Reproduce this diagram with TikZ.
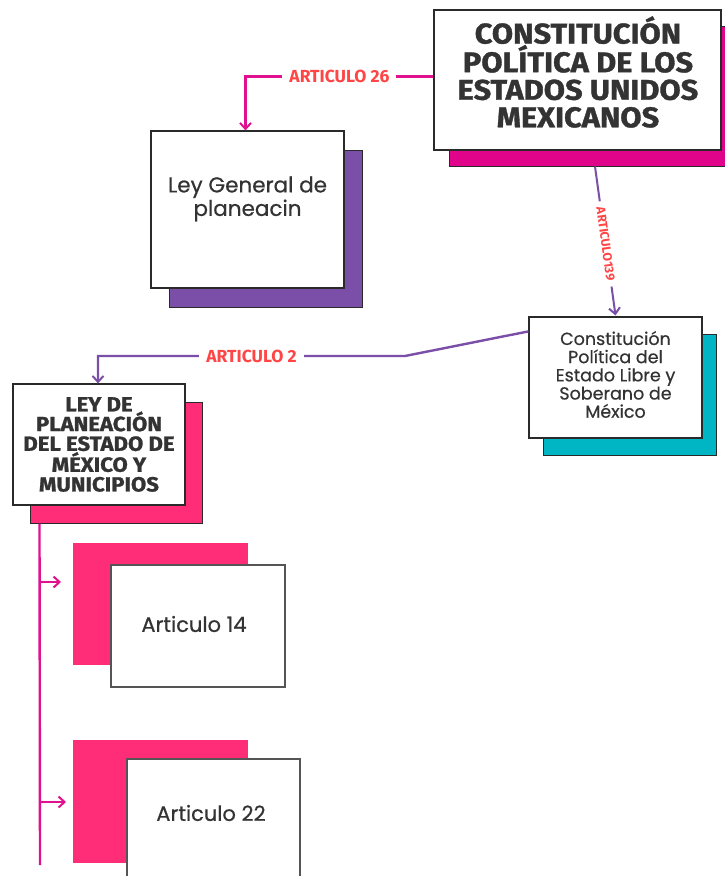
\documentclass[tikz,border=0pt]{standalone}
\usepackage{fontspec}
\setmainfont{Poppins}[FakeBold=0.5]
\newfontfamily\condbold{Fira Sans}[FakeStretch=1.08,FakeBold=1.2]
\newfontfamily\labfont{Fira Sans}
\usetikzlibrary{arrows.meta,calc,positioning}
\definecolor{magline}{HTML}{E0108F}
\definecolor{magbox}{HTML}{E0048B}
\definecolor{purp}{HTML}{7B4FA8}
\definecolor{pinkbox}{HTML}{FF2D78}
\definecolor{tealbox}{HTML}{00B5C4}
\definecolor{labred}{HTML}{FF4545}
\definecolor{txt}{HTML}{333333}
\definecolor{edge}{HTML}{2A2A2A}
\begin{document}
\begin{tikzpicture}[x=1pt,y=-1pt,
  whitebox/.style={draw=edge,line width=1.2pt,fill=white,inner sep=0pt},
  shadowbox/.style={draw=edge,line width=1pt,inner sep=0pt},
  flatbox/.style={draw=none,inner sep=0pt},
  boxtext/.style={text=txt,align=center,inner sep=0pt},
  arttext/.style={font=\labfont\bfseries\fontsize{17.5}{19}\selectfont,text=labred,fill=white,inner xsep=7pt,inner ysep=1pt},
  conn/.style={line width=2.4pt},
  tip/.style={-{Straight Barb[length=6pt,width=11pt,line width=2pt]}}
]
\useasboundingbox (0,0) rectangle (724,876);
\fill[white] (0,0) rectangle (724,876);

% CPEUM
\node[shadowbox,fill=magbox,minimum width=289pt,minimum height=140pt] (cpeumS) at (593.5,96) {};
\node[whitebox,minimum width=287pt,minimum height=140pt] (cpeum) at (577.5,80) {};
\node[boxtext,font=\condbold\bfseries\fontsize{28.5}{27.5}\selectfont] (cpeumT) at (578,72) {CONSTITUCIÓN\\POLÍTICA DE LOS\\ESTADOS UNIDOS\\MEXICANOS};

% Ley General
\node[shadowbox,fill=purp,minimum width=193pt,minimum height=157pt] (leyS) at (266,229) {};
\node[whitebox,minimum width=193pt,minimum height=157pt] (ley) at (247.5,209.5) {};
\node[boxtext,font=\fontsize{21.5}{23.5}\selectfont] (leyT) at (247.5,199) {Ley General de\\planeacin};

% Constitucion Estado
\node[shadowbox,fill=tealbox,minimum width=173pt,minimum height=121pt] (edoS) at (629.5,394.5) {};
\node[whitebox,minimum width=173pt,minimum height=121pt] (edo) at (615.5,377.5) {};
\node[boxtext,font=\fontsize{17.5}{18.2}\selectfont] (edoT) at (615.5,374.5) {Constitución\\Política del\\Estado Libre y\\Soberano de\\México};

% Ley de planeacion estatal
\node[shadowbox,fill=pinkbox,minimum width=172pt,minimum height=121pt] (planS) at (116,462.5) {};
\node[whitebox,minimum width=172pt,minimum height=121pt] (plan) at (99,444.5) {};
\node[boxtext,font=\condbold\bfseries\fontsize{20.5}{19.7}\selectfont] (planT) at (99,444.5) {LEY DE\\PLANEACIÓN\\DEL ESTADO DE\\MÉXICO Y\\MUNICIPIOS};

% Articulo 14
\node[flatbox,fill=pinkbox,minimum width=175pt,minimum height=122pt] (a14S) at (160.5,604) {};
\node[whitebox,draw=edge!80,minimum width=174pt,minimum height=122pt] (a14) at (198,626) {};
\node[boxtext,font=\fontsize{21}{24}\selectfont] (a14T) at (194,624) {Articulo 14};

% Articulo 22
\node[flatbox,fill=pinkbox,minimum width=175pt,minimum height=123pt] (a22S) at (160.5,801.5) {};
\node[whitebox,draw=edge!80,minimum width=173pt,minimum height=122pt] (a22) at (213.5,820) {};
\node[boxtext,font=\fontsize{21}{24}\selectfont] (a22T) at (211,813) {Articulo 22};

% connector Articulo 26
\coordinate (c26a) at ($(cpeum.north west)+(0,67)$);
\draw[conn,magline,tip] (c26a) -| node[arttext,pos=0.25] (l26) {ARTICULO 26} ($(ley.north)+(-2,0)$);

% connector Articulo 139
\coordinate (c139a) at ($(cpeumS.south)+(1.5,0)$);
\coordinate (c139b) at ($(edo.north)+(0,-1)$);
\draw[conn,purp,line width=2pt,tip] (c139a) -- node[sloped,pos=0.52,fill=white,text=labred,inner xsep=6pt,inner ysep=0pt,font=\labfont\bfseries\fontsize{12.5}{13}\selectfont] (l139) {ARTICULO139} (c139b);

% connector Articulo 2
\coordinate (c2a) at ($(edo.north west)+(0,15)$);
\coordinate (c2b) at (405,356);
\draw[conn,purp,tip] (c2a) -- (c2b) -| node[arttext,pos=0.25] (l2) {ARTICULO 2} ($(plan.north)+(-1,0)$);

% vertical trunk
\coordinate (trTop) at ($(planS.south west)+(10,0)$);
\coordinate (trBot) at (40,865);
\coordinate (t14) at (40,582);
\coordinate (t22) at (40,802);
\coordinate (e14) at (61,582);
\coordinate (e22) at (66,802);
\draw[conn,magline] (trTop) -- (trBot);
\draw[conn,magline,tip] (t14) -- (e14);
\draw[conn,magline,tip] (t22) -- (e22);
\end{tikzpicture}
\end{document}
